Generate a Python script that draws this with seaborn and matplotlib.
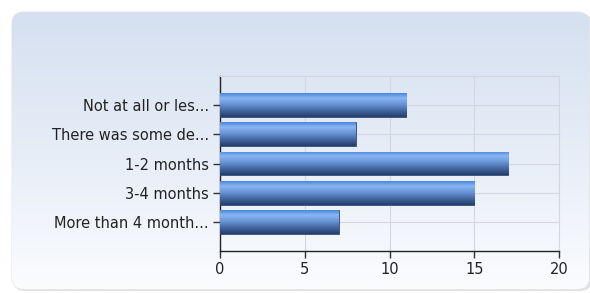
import numpy as np
import pandas as pd
import matplotlib
matplotlib.use("Agg")
import matplotlib.pyplot as plt
import seaborn as sns
from matplotlib.patches import FancyBboxPatch
from matplotlib.colors import LinearSegmentedColormap

# data
categories = ["Not at all or les...", "There was some de...", "1-2 months",
              "3-4 months", "More than 4 month..."]
counts = [11, 8, 17, 15, 7]
x_ticks = [0, 5, 10, 15, 20]

df = pd.DataFrame({"answer": categories, "count": counts})

sns.set_style("white")
plt.rcParams["font.family"] = ["DejaVu Sans"]

fig = plt.figure(figsize=(5.9, 2.93), dpi=100)

# rounded background panel with vertical gradient
bg = fig.add_axes([0, 0, 1, 1], zorder=-10)
bg.set_xlim(0, 590)
bg.set_ylim(293, 0)
bg.axis("off")
panel_cmap = LinearSegmentedColormap.from_list("panel", ["#d5e0f0", "#e6edf7", "#fbfcfe"])
shadow = FancyBboxPatch((13, 13), 579, 278, boxstyle="round,pad=0,rounding_size=12",
                        facecolor="#e2e2e2", edgecolor="none", zorder=0)
bg.add_patch(shadow)
panel = FancyBboxPatch((12, 12), 577, 277, boxstyle="round,pad=0,rounding_size=12",
                       facecolor="white", edgecolor="#e4e8ee", linewidth=0.8, zorder=1)
bg.add_patch(panel)
grad = np.linspace(0, 1, 256).reshape(-1, 1)
im = bg.imshow(grad, cmap=panel_cmap, extent=[12, 589, 289, 12], aspect="auto", zorder=2)
im.set_clip_path(panel)

ax = fig.add_axes([220 / 590, 1 - 251 / 293, 339 / 590, 175 / 293])
ax.patch.set_alpha(0)

sns.barplot(data=df, x="count", y="answer", orient="h", width=0.82,
            color="#4a7cc8", ax=ax, zorder=3)

ax.set_xlim(0, 20)
ax.set_ylim(len(categories), -1)
ax.set_xticks(x_ticks)
ax.set_xlabel("")
ax.set_ylabel("")

# grid
ax.grid(True, axis="both", color="#d3d8e0", linewidth=0.8, zorder=0)
ax.set_axisbelow(True)

for side in ["top", "right"]:
    ax.spines[side].set_visible(True)
    ax.spines[side].set_color("#d3d8e0")
    ax.spines[side].set_linewidth(0.8)
for side in ["left", "bottom"]:
    ax.spines[side].set_color("#222222")
    ax.spines[side].set_linewidth(1.0)

ax.tick_params(axis="both", direction="out", length=5, width=1, color="#333333",
               labelsize=10.5, labelcolor="#222222", left=True, bottom=True, pad=3)

# gradient fill on each bar
bar_cmap = LinearSegmentedColormap.from_list(
    "bar", [(0.0, "#4a86e0"), (0.2, "#8ab6f2"), (0.45, "#6a96d8"),
            (0.75, "#41659e"), (1.0, "#243f6a")])
bar_grad = np.linspace(0, 1, 64).reshape(-1, 1)
for p in ax.patches:
    x0, y0 = p.get_x(), p.get_y()
    w, h = p.get_width(), p.get_height()
    p.set_edgecolor("#2d4a78")
    p.set_linewidth(0.6)
    bim = ax.imshow(bar_grad, cmap=bar_cmap, extent=[x0, x0 + w, y0 + h, y0],
                    aspect="auto", zorder=3.5)
    bim.set_clip_path(p)

ax.set_xlim(0, 20)
ax.set_ylim(len(categories), -1)

fig.savefig("out.png", dpi=100)
